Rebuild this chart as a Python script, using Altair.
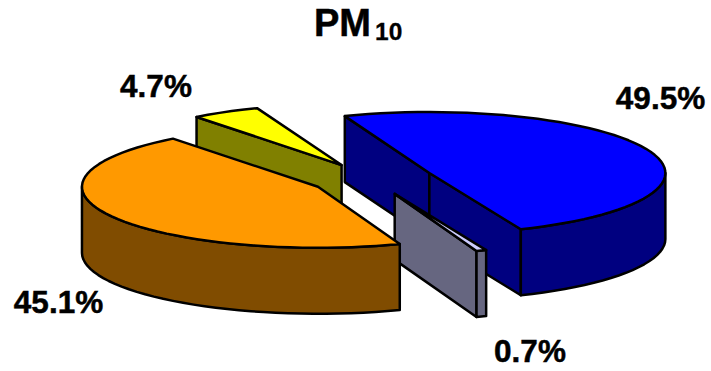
import math
import altair as alt

# Shares of PM10 by source, clockwise from the first slice
shares = [49.5, 0.7, 45.1, 4.7]
top_colors = ["#0000FF", "#CCCCFF", "#FF9900", "#FFFF00"]
side_colors = ["#000080", "#666680", "#804C00", "#808000"]

# Pie geometry in pixels: tilted disc, extrusion depth, slice explosion
CX, CY = 372.0, 179.0
RX, RY = 236.0, 61.0
DEPTH = 66.0
EXPLODE = 0.262
START = -111.0
PAINT_ORDER = [3, 0, 1, 2]  # back to front

label_x = [660.5, 530, 58.5, 156]
label_y = [108.5, 361.5, 312.5, 96.5]
FONT = "Liberation Sans"


def rim(cx, cy, t):
    r = math.radians(t)
    return [cx + RX * math.cos(r), cy + RY * math.sin(r)]


def arc(cx, cy, t0, t1, step=3.0):
    n = max(1, int(abs(t1 - t0) / step))
    return [rim(cx, cy, t0 + (t1 - t0) * i / n) for i in range(n + 1)]


def drop(points):
    return [[x, y + DEPTH] for x, y in points]


def feature(points, fill):
    ring = points + [points[0]]
    return {"type": "Feature", "properties": {}, "fill": fill,
            "geometry": {"type": "Polygon", "coordinates": [ring]}}


# Angular span of each slice, derived from its share
spans = []
angle = START
for s in shares:
    sweep = s / 100 * 360
    spans.append((angle, angle + sweep))
    angle += sweep

shapes = []
for i in PAINT_ORDER:
    t0, t1 = spans[i]
    mid = math.radians((t0 + t1) / 2)
    cx = CX + EXPLODE * RX * math.cos(mid)
    cy = CY + EXPLODE * RY * math.sin(mid)
    side, top = side_colors[i], top_colors[i]

    # Radial cut faces, kept only when they turn towards the viewer
    for t, normal in ((t0, t0 - 90), (t1, t1 + 90)):
        if math.sin(math.radians(normal)) > 0:
            edge = [[cx, cy], rim(cx, cy, t)]
            shapes.append(feature(edge + drop(edge)[::-1], side))

    # Outer wall, only where the rim faces the viewer
    vis0 = max(t0, 0.0)
    vis1 = min(t1, 180.0)
    if vis1 > vis0:
        wall = arc(cx, cy, vis0, vis1)
        shapes.append(feature(wall + drop(wall)[::-1], side))

    # Top face
    shapes.append(feature([[cx, cy]] + arc(cx, cy, t0, t1), top))

pie = (
    alt.Chart(alt.Data(values=shapes))
    .mark_geoshape(stroke="#000000", strokeWidth=2.5, strokeJoin="round")
    .encode(fill=alt.Fill("fill:N", scale=None))
    .project(type="identity", scale=1, translate=[0, 0])
)

labels = (
    alt.Chart(alt.Data(values=[
        {"text": f"{s}%", "x": x, "y": y}
        for s, x, y in zip(shares, label_x, label_y)
    ]))
    .mark_text(font=FONT, fontSize=31.5, fontWeight="bold", color="#000000",
               stroke="#000000", strokeWidth=0.5, baseline="alphabetic")
    .encode(
        x=alt.X("x:Q", scale=None),
        y=alt.Y("y:Q", scale=None),
        text="text:N",
    )
)

title_main = (
    alt.Chart(alt.Data(values=[{"t": "PM"}]))
    .mark_text(font=FONT, fontSize=38, fontWeight="bold", color="#000000",
               stroke="#000000", strokeWidth=0.5, align="left", baseline="alphabetic")
    .encode(x=alt.value(314), y=alt.value(36), text="t:N")
)
title_sub = (
    alt.Chart(alt.Data(values=[{"t": "10"}]))
    .mark_text(font=FONT, fontSize=24.5, fontWeight="bold", color="#000000",
               stroke="#000000", strokeWidth=0.3, align="left", baseline="alphabetic")
    .encode(x=alt.value(375), y=alt.value(40), text="t:N")
)

chart = (
    alt.layer(pie, labels, title_main, title_sub)
    .properties(width=711, height=371, padding=0, autosize=alt.AutoSizeParams(type="none"),
                background="#FFFFFF")
    .configure_view(stroke=None)
)

chart.save("out.html", embed_options={"renderer": "svg", "actions": False})
